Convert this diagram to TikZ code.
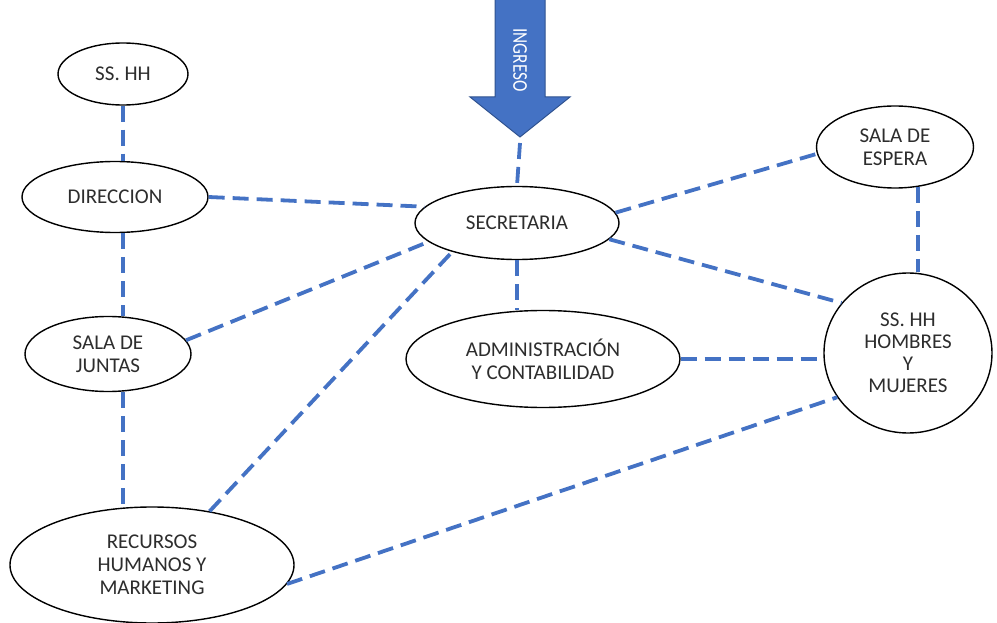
\documentclass[tikz,border=0pt]{standalone}
\usepackage{fontspec}
\setmainfont{Carlito}
\usetikzlibrary{shapes.geometric}
\definecolor{linkblue}{RGB}{68,114,196}
\definecolor{arrowedge}{RGB}{47,82,143}
\definecolor{txt}{RGB}{45,45,45}
\tikzset{
  room/.style={ellipse, draw=black, line width=1.4pt, fill=white, inner sep=0pt,
    align=center, text=txt, font=\fontsize{21}{23}\selectfont},
  link/.style={draw=linkblue, line width=3.8pt, dash pattern=on 16pt off 8pt},
}
\begin{document}
\begin{tikzpicture}[x=1pt,y=-1pt]
\useasboundingbox (0,0) rectangle (997,623);
% nodes
\node[room, minimum width=130pt, minimum height=62pt] (ssTop) at (123,74) {SS. HH};
\node[room, minimum width=186pt, minimum height=71pt] (dir) at (115,197) {DIRECCION};
\node[room, minimum width=166pt, minimum height=75pt] (juntas) at (108,354) {SALA DE\\JUNTAS};
\node[room, minimum width=284pt, minimum height=116pt] (rrhh) at (152,565) {RECURSOS\\HUMANOS Y\\MARKETING};
\node[room, minimum width=204pt, minimum height=73pt] (secr) at (517,223) {SECRETARIA};
\node[room, minimum width=274pt, minimum height=97pt] (admin) at (543,359) {ADMINISTRACIÓN\\Y CONTABILIDAD};
\node[room, minimum width=157pt, minimum height=82pt] (espera) at (895,147) {SALA DE\\ESPERA};
\node[room, minimum width=168pt, minimum height=160pt, font=\fontsize{21}{22}\selectfont] (sshh) at (908,353) {SS. HH\\HOMBRES\\Y\\MUJERES};
% entrance arrow
\filldraw[fill=linkblue, draw=arrowedge, line width=1pt]
  (495,-5) -- (545,-5) -- (545,97) -- (570,97) -- (520,137) -- (470,97) -- (495,97) -- cycle;
\coordinate (tip) at (520,137);
\node[rotate=-90, text=white, font=\fontsize{21}{24}\selectfont, inner sep=0pt] (ingreso) at (520,60) {\scalebox{0.82}[1]{INGRESO}};
% connectors
\draw[link] (ssTop.south) -- (ssTop.south |- dir.north);
\draw[link] (ssTop.south |- dir.south) -- (ssTop.south |- juntas.north);
\draw[link] (ssTop.south |- juntas.south) -- (ssTop.south |- rrhh.north);
\draw[link] (dir.0) -- (secr.170);
\draw[link] (juntas.10) -- (secr.192);
\draw[link] (rrhh.43) -- (secr.204);
\draw[link] (rrhh.-8) -- (sshh.212);
\draw[link] ([yshift=-6pt]tip) -- (secr.north);
\draw[link] (secr.south) -- (secr.south |- admin.north);
\draw[link] (secr.6) -- (espera.185);
\draw[link] (secr.-10) -- (sshh.143);
\draw[link] (espera.-60) -- (espera.-60 |- sshh.north);
\draw[link] (admin.east) -- (admin.east -| sshh.west);
\end{tikzpicture}
\end{document}
